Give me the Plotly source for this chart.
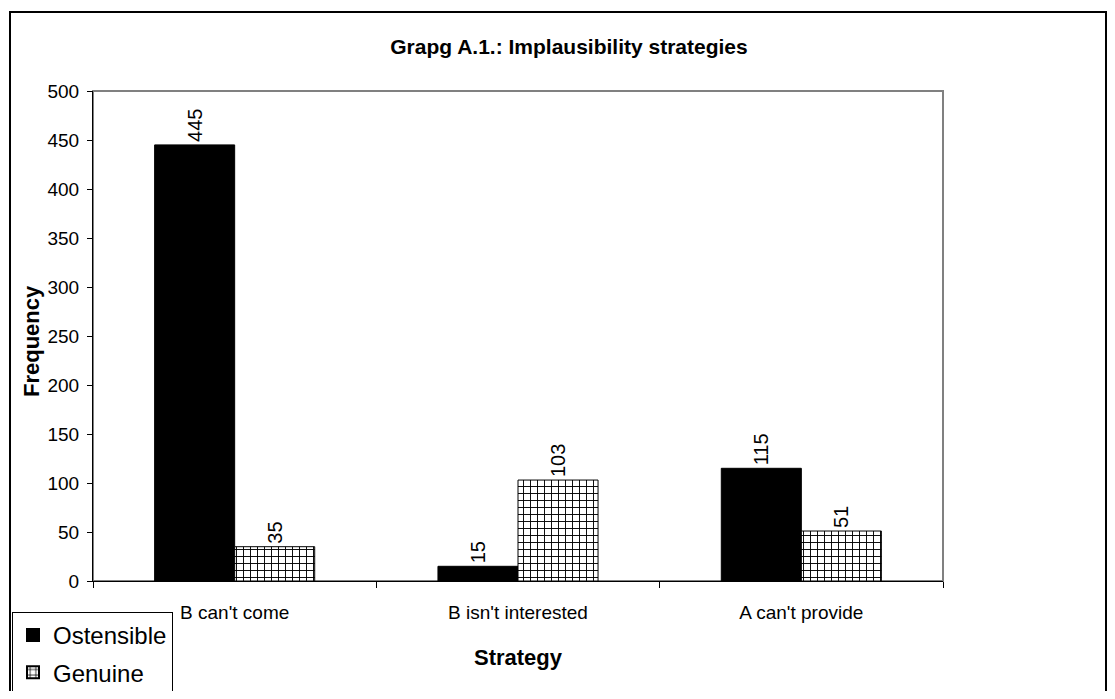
import plotly.graph_objects as go

categories = ["B can't come", "B isn't interested", "A can't provide"]
ostensible = [445, 15, 115]
genuine = [35, 103, 51]
title_text = "Grapg A.1.: Implausibility strategies"

OFF = 8  # default page body margin
W, H = 1115 - 2 * OFF, 699 - 2 * OFF
L, R, T, B = 93 - OFF, 943 - OFF, 91 - OFF, 581 - OFF
pw, ph = R - L, B - T

def px(x):
    return (x - OFF - L) / pw

def py(y):
    return (B - (y - OFF)) / ph

FONT = "Arial, Liberation Sans"

fig = go.Figure()
fig.add_trace(go.Bar(
    x=categories, y=ostensible, name="Ostensible", legendgroup="o",
    marker=dict(color="black", line=dict(color="black", width=1)),
    text=ostensible, textposition="outside", textangle=-90,
    textfont=dict(family=FONT, size=20, color="black"),
    cliponaxis=False,
))
fig.add_trace(go.Bar(
    x=categories, y=genuine, name="Genuine", legendgroup="g",
    marker=dict(color="white", line=dict(color="black", width=1),
                pattern=dict(shape="+", fgcolor="black", bgcolor="white",
                             size=7, solidity=0.25, fillmode="replace")),
    text=genuine, textposition="outside", textangle=-90,
    textfont=dict(family=FONT, size=20, color="black"),
    cliponaxis=False,
))

fig.update_layout(
    width=W, height=H,
    margin=dict(l=L, r=W - R, t=T, b=H - B, autoexpand=False),
    paper_bgcolor="white", plot_bgcolor="white",
    barmode="group", bargap=0.435, bargroupgap=0,
    font=dict(family=FONT, size=19, color="black"),
    title=dict(text="<b>" + title_text + "</b>", x=(569 - OFF) / W,
               xref="container", xanchor="center",
               y=1 - (47 - OFF) / H, yref="container", yanchor="middle",
               font=dict(size=21)),
    showlegend=True,
    legend=dict(x=px(12), y=py(612), xanchor="left", yanchor="top",
                bordercolor="black", borderwidth=1, bgcolor="white",
                font=dict(size=24), tracegroupgap=3, itemsizing="constant"),
    shapes=[
        dict(type="rect", xref="paper", yref="paper", x0=0, x1=1, y0=0, y1=1,
             line=dict(color="#808080", width=2), layer="below"),
        dict(type="rect", xref="paper", yref="paper",
             x0=px(10), x1=px(1106), y0=py(12), y1=py(740),
             line=dict(color="black", width=2)),
    ],
    annotations=[
        dict(text="<b>Strategy</b>", xref="paper", yref="paper",
             x=px(518), y=py(657), xanchor="center", yanchor="middle",
             showarrow=False, font=dict(size=22)),
        dict(text="<b>Frequency</b>", xref="paper", yref="paper",
             x=px(31), y=py(341), xanchor="center", yanchor="middle",
             textangle=-90, showarrow=False, font=dict(size=22)),
    ],
)
fig.update_xaxes(
    type="category", showline=True, linecolor="black", linewidth=1,
    ticks="outside", tickson="boundaries", ticklen=6, tickcolor="black",
    showgrid=False, tickfont=dict(size=19), ticklabelstandoff=14,
)
fig.update_yaxes(
    range=[0, 500], dtick=50, showline=True, linecolor="black", linewidth=1,
    ticks="outside", ticklen=5, tickcolor="black", showgrid=False,
    tickfont=dict(size=19), zeroline=False, ticklabelstandoff=4,
)

fig.write_html("out.html")
